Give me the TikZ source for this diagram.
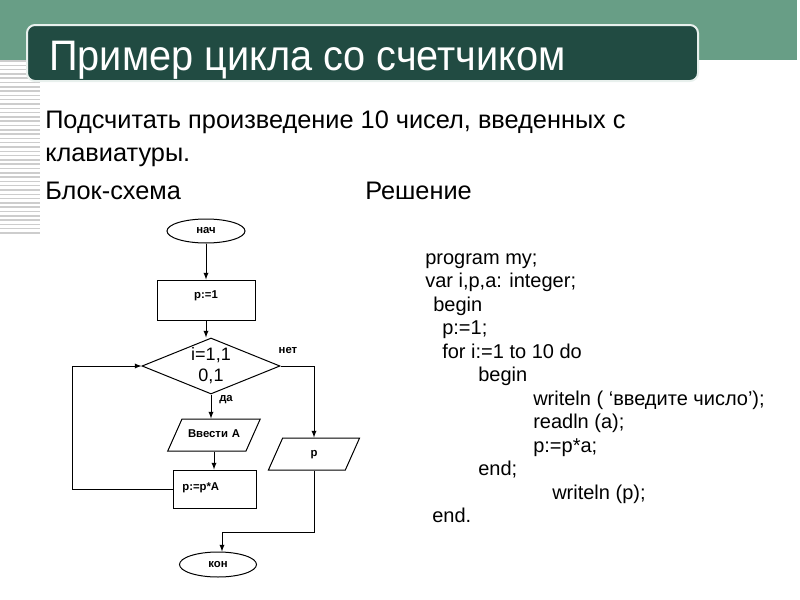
\documentclass[tikz,border=0pt]{standalone}
\usepackage{fontspec}
\setmainfont{Liberation Sans}
\newfontfamily\headfont[FakeStretch=0.93]{Liberation Sans}
\usetikzlibrary{shapes.geometric}

\definecolor{bandgreen}{RGB}{104,158,134}
\definecolor{titlegreen}{RGB}{33,75,66}
\definecolor{stripegray}{RGB}{205,205,205}

\tikzset{
  blk/.style={draw, line width=0.75pt, inner sep=0pt, font=\fontsize{8.5}{10}\selectfont\bfseries},
  term/.style={blk, ellipse},
  proc/.style={blk, rectangle},
  io/.style={blk, trapezium, trapezium left angle=66, trapezium right angle=114, align=center, text height=14pt, text depth=10pt},
  test/.style={blk, diamond, minimum width=103.5pt, minimum height=42pt},
  flow/.style={line width=0.75pt, -latex},
  body/.style={anchor=base west, inner sep=0pt, font=\fontsize{19}{23}\selectfont},
  code/.style={anchor=base west, inner sep=0pt, font=\fontsize{15}{18}\selectfont},
}

\begin{document}
\begin{tikzpicture}[x=0.75pt,y=0.75pt,yscale=-1,xscale=1]
        \useasboundingbox (0,0) rectangle (800,600);
        % header
        \fill[bandgreen] (0,0) rectangle (797,60);
        \foreach \i in {0,...,40}
          \draw[stripegray, line width=1.1pt] (0,{61+4.3*\i}) -- (40,{61+4.3*\i});
        \draw[titlegreen, rounded corners=6pt, fill=titlegreen, draw=white!85!bandgreen, line width=1.5pt] (27,25) rectangle (698,81);
        \node[anchor=base west, inner sep=0pt, text=white, font=\headfont\fontsize{32}{38}\selectfont] (title) at (49,70) {Пример цикла со счетчиком};

        % task
        \node[body] (task1) at (45,128) {Подсчитать произведение 10 чисел, введенных с};
        \node[body] (task2) at (45,161) {клавиатуры.};
        \node[body] (scheme) at (45,199) {Блок-схема};
        \node[body] (solution) at (365,199) {Решение};

        % flowchart
        \node[term, minimum width=58.5pt, minimum height=18pt] (start) at (206,231) {нач};
        \node[proc, minimum width=73.5pt, text height=13.5pt, text depth=16.5pt] (init) at (206,300) {p:=1};
        \node[test, label={[align=center, inner sep=0pt, font=\fontsize{13.5}{15.75}\selectfont]center:{i=1,1\\0,1}}] (loop) at (211,366) {};
        \node[io, text width=48pt] (input) at (214,435) {Ввести А};
        \node[proc, text width=48.25pt, inner xsep=7pt, align=left, text height=15pt, text depth=13.5pt] (mult) at (214.5,489) {p:=p*A};
        \node[io, text width=47pt] (output) at (314,454) {p};
        \node[term, minimum width=57.75pt, minimum height=18.75pt] (finish) at (218,564.5) {кон};

        \node[blk, draw=none] (lblno) at (288,351) {нет};
        \node[blk, draw=none] (lblyes) at (226,400) {да};

        \coordinate (back) at (72,489);
        \coordinate (joint) at (222,532);

        \draw[flow] (start) -- (init);
        \draw[flow] (init.south) -- (init.south |- loop.north);
        \draw[flow] (loop.south) -- (loop.south |- input.north);
        \draw[flow] (input.south) -- (input.south |- mult.north);
        \draw[flow] (mult.west) -- (back) |- (loop.west);
        \draw[flow] (loop.east) -| (output.north);
        \draw[flow] (output.south) |- (joint) -- (joint |- finish.north);

        % program
        \node[code] (code1) at (425,264) {program my;};
        \node[code] (code2) at (425,287.5) {var i,p,a: integer;};
        \node[code] (code3) at (433,311) {begin};
        \node[code] (code4) at (442,334.5) {p:=1;};
        \node[code] (code5) at (442,358) {for i:=1 to 10 do};
        \node[code] (code6) at (478,381.5) {begin};
        \node[code] (code7) at (533,405) {writeln ( ‘введите число’);};
        \node[code] (code8) at (533,428.5) {readln (a);};
        \node[code] (code9) at (533,452) {p:=p*a;};
        \node[code] (code10) at (478,475.5) {end;};
        \node[code] (code11) at (552,499) {writeln (p);};
        \node[code] (code12) at (432,522.5) {end.};
    \end{tikzpicture}
\end{document}
